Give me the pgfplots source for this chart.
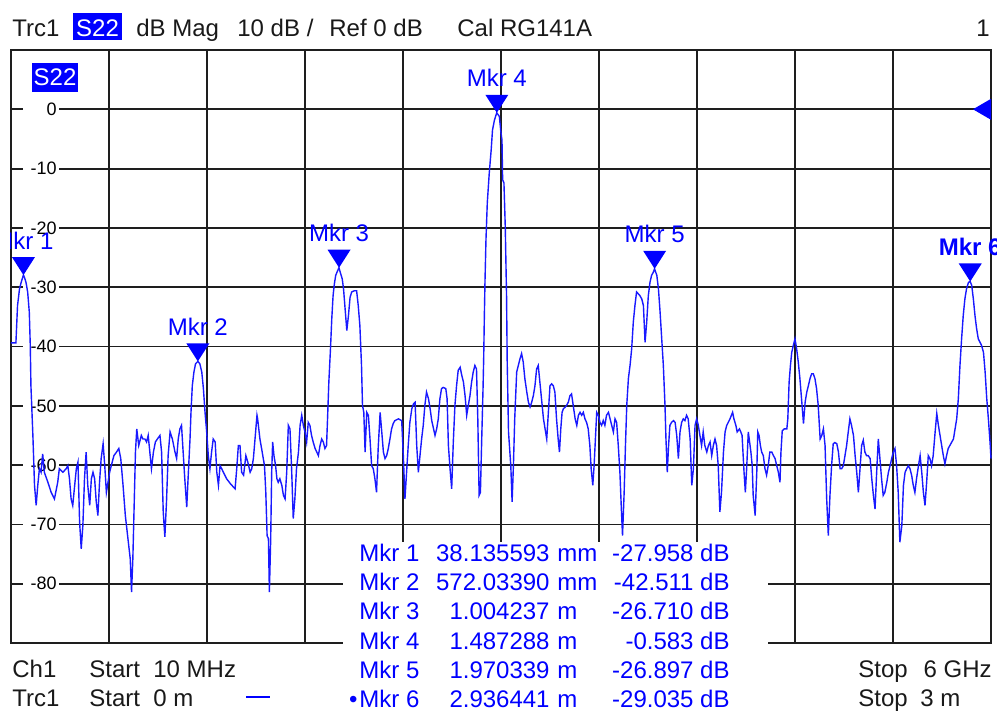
\documentclass[border=0pt]{standalone}
\usepackage{fontspec}
\setmainfont{Liberation Sans}
\usepackage{pgfplots}
\pgfplotsset{compat=1.18}
\definecolor{trc}{RGB}{25,25,255}
\definecolor{mk}{RGB}{0,0,255}
\definecolor{gridc}{RGB}{30,30,30}
\pgfdeclareplotmark{tridown}{%
  \pgfpathmoveto{\pgfpoint{0pt}{0pt}}%
  \pgfpathlineto{\pgfpoint{-5.75pt}{9pt}}%
  \pgfpathlineto{\pgfpoint{5.75pt}{9pt}}%
  \pgfpathclose\pgfusepathqfill}
\pgfdeclareplotmark{trileft}{%
  \pgfpathmoveto{\pgfpoint{-9pt}{0pt}}%
  \pgfpathlineto{\pgfpoint{0pt}{5.25pt}}%
  \pgfpathlineto{\pgfpoint{0pt}{-5.25pt}}%
  \pgfpathclose\pgfusepathqfill}
\pgfplotsset{vnabase/.style={
  at={(5.5pt,-321.5pt)}, anchor=south west,
  width=490pt, height=296.5pt, scale only axis,
  xmin=0, xmax=3, ymin=-90, ymax=10}}
\begin{document}
\begin{tikzpicture}
% grid, frame and scale labels
\begin{axis}[vnabase,
  xtick={0.3,0.6,0.9,1.2,1.5,1.8,2.1,2.4,2.7}, xticklabels={},
  ytick={-80,-70,-60,-50,-40,-30,-20,-10,0},
  yticklabels={-80,-70,-60,-50,-40,-30,-20,-10,0},
  grid=major,
  major grid style={gridc, line width=0.9pt},
  axis line style={gridc, line width=0.9pt},
  major tick length=0pt,
  tick style={draw=none},
  yticklabel style={font=\fontsize{9}{9}\selectfont, fill=white, inner sep=1pt,
    text width=16pt, align=right, anchor=east, xshift=24pt, text=black},
]
\end{axis}
% trace and markers
\begin{axis}[vnabase, hide axis, clip=false]
\addplot[trc, line width=0.7pt] coordinates {
(0,-39.4) (0.015,-39.4) (0.020,-33.1) (0.026,-30.3) (0.031,-29.2) (0.038,-27.96) (0.041,-28.3) (0.046,-29.2) (0.051,-30.8) (0.056,-34.2) (0.059,-39.8) (0.061,-46.6) (0.067,-55.0) (0.072,-63.4) (0.077,-66.8) (0.082,-63.4) (0.087,-60.6) (0.092,-61.2) (0.097,-58.1) (0.102,-61.2) (0.113,-62.9) (0.123,-64.6) (0.133,-65.7) (0.143,-62.9) (0.148,-60.6) (0.159,-61.2) (0.169,-60.6) (0.174,-60.1) (0.179,-62.3) (0.184,-65.7) (0.189,-66.8) (0.195,-63.4) (0.200,-60.6) (0.205,-59.5) (0.210,-69.6) (0.215,-74.1) (0.220,-70.2) (0.225,-62.3) (0.230,-57.8) (0.235,-63.4) (0.241,-66.8) (0.246,-62.3) (0.251,-61.2) (0.256,-62.3) (0.261,-66.2) (0.266,-68.5) (0.271,-62.9) (0.276,-58.9) (0.282,-56.4) (0.287,-60.1) (0.292,-64.6) (0.297,-62.9) (0.302,-61.2) (0.307,-60.1) (0.315,-58.4) (0.323,-57.8) (0.330,-57.2) (0.336,-58.9) (0.343,-63.4) (0.350,-68.5) (0.358,-72.4) (0.365,-75.8) (0.369,-81.4) (0.373,-75.8) (0.377,-66.8) (0.381,-57.8) (0.385,-53.9) (0.391,-56.7) (0.399,-55.0) (0.404,-55.6) (0.410,-55.6) (0.415,-56.1) (0.420,-55.0) (0.425,-57.8) (0.430,-60.6) (0.436,-57.8) (0.442,-56.1) (0.448,-55.6) (0.456,-55.0) (0.461,-57.8) (0.466,-67.9) (0.471,-72.1) (0.476,-66.2) (0.481,-58.4) (0.487,-54.4) (0.494,-55.6) (0.502,-57.8) (0.507,-58.9) (0.512,-55.6) (0.517,-53.9) (0.522,-53.3) (0.527,-57.8) (0.532,-62.3) (0.538,-67.1) (0.543,-61.2) (0.548,-55.6) (0.551,-51.1) (0.555,-46.6) (0.560,-44.3) (0.565,-42.9) (0.572,-42.51) (0.578,-42.9) (0.584,-44.3) (0.589,-47.1) (0.594,-51.1) (0.599,-54.4) (0.604,-58.4) (0.609,-60.6) (0.614,-57.8) (0.619,-55.6) (0.625,-56.1) (0.630,-61.2) (0.635,-63.4) (0.640,-60.1) (0.645,-60.6) (0.650,-61.2) (0.660,-62.3) (0.671,-63.1) (0.686,-64.0) (0.691,-60.6) (0.696,-56.7) (0.701,-56.7) (0.706,-61.2) (0.712,-61.7) (0.719,-58.4) (0.725,-59.5) (0.732,-61.2) (0.737,-60.6) (0.742,-58.9) (0.747,-55.6) (0.753,-51.6)
(0.755,-52.2) (0.762,-55.6) (0.769,-57.8) (0.776,-60.1) (0.780,-64.6) (0.784,-71.9) (0.788,-72.4) (0.791,-81.4) (0.795,-72.4) (0.798,-61.2) (0.801,-56.1) (0.805,-58.4) (0.810,-60.1) (0.814,-62.3) (0.818,-62.9) (0.823,-62.3) (0.829,-63.4) (0.834,-65.1) (0.839,-65.7) (0.844,-61.2) (0.849,-53.3) (0.854,-53.9) (0.859,-60.6) (0.864,-69.0) (0.869,-65.7) (0.874,-60.6) (0.880,-57.8) (0.885,-53.3) (0.890,-51.6) (0.895,-53.3) (0.900,-54.4) (0.905,-56.1) (0.910,-52.8) (0.915,-53.3) (0.920,-55.0) (0.925,-56.1) (0.931,-57.2) (0.941,-58.4) (0.946,-56.7) (0.951,-55.6) (0.956,-56.1) (0.961,-57.2) (0.966,-56.7) (0.969,-52.2) (0.973,-46.0) (0.978,-40.4) (0.982,-35.3) (0.986,-31.4) (0.990,-29.4) (0.994,-28.0) (1.000,-27.2) (1.004,-26.71) (1.008,-27.5) (1.014,-28.6) (1.018,-30.3) (1.022,-33.1) (1.028,-37.3) (1.033,-34.8) (1.038,-31.7) (1.043,-30.8) (1.051,-30.6) (1.058,-30.6) (1.063,-33.1) (1.068,-36.5) (1.073,-43.2) (1.076,-49.9) (1.080,-51.1) (1.084,-57.8) (1.089,-51.1) (1.094,-51.6) (1.099,-55.6) (1.104,-60.1) (1.109,-60.6) (1.114,-62.3) (1.119,-64.6) (1.124,-57.2) (1.130,-51.1) (1.135,-54.4) (1.140,-57.8) (1.145,-58.9) (1.150,-58.4) (1.155,-57.2) (1.160,-55.6) (1.165,-53.9) (1.170,-53.0) (1.175,-52.5) (1.186,-52.2) (1.196,-52.5) (1.201,-58.4) (1.206,-65.7) (1.211,-61.2) (1.216,-56.7) (1.221,-52.8) (1.227,-50.5) (1.232,-49.7) (1.237,-49.4) (1.242,-56.7) (1.247,-61.2) (1.252,-58.4) (1.257,-55.6) (1.262,-53.3) (1.267,-49.9) (1.272,-47.7) (1.278,-48.8) (1.283,-50.5) (1.288,-52.5) (1.298,-55.0) (1.303,-53.9) (1.308,-52.2) (1.313,-48.8) (1.318,-47.1) (1.323,-46.9) (1.331,-47.1) (1.335,-48.8) (1.339,-56.7) (1.344,-60.6) (1.349,-64.0) (1.354,-56.1) (1.359,-49.9) (1.364,-46.6) (1.369,-44.0) (1.375,-43.5) (1.380,-44.9) (1.385,-46.0) (1.390,-48.3) (1.395,-51.6) (1.400,-49.9) (1.405,-48.3) (1.410,-46.0) (1.415,-44.3) (1.420,-43.2) (1.425,-43.8) (1.429,-52.2) (1.433,-65.1) (1.437,-64.6) (1.441,-55.6) (1.445,-47.1)
(1.447,-42.0) (1.449,-35.0) (1.451,-29.0) (1.454,-22.0) (1.458,-15.8) (1.464,-10.8) (1.470,-6.8) (1.474,-3.5) (1.480,-1.8) (1.487,-0.583) (1.495,-1.2) (1.499,-3.5) (1.503,-5.2) (1.505,-11.9) (1.509,-12.4) (1.513,-19.7) (1.517,-31.5) (1.519,-42.6) (1.523,-54.4) (1.530,-60.1) (1.534,-66.2) (1.538,-60.1) (1.542,-52.2)
(1.548,-44.3) (1.553,-43.2) (1.558,-42.1) (1.563,-41.2) (1.568,-42.6) (1.573,-45.4) (1.579,-47.7) (1.584,-49.4) (1.589,-50.2) (1.594,-49.4) (1.599,-48.3) (1.604,-46.6) (1.609,-43.8) (1.614,-43.2) (1.619,-46.0) (1.624,-48.8) (1.630,-52.2) (1.635,-53.9) (1.640,-55.6) (1.645,-51.1) (1.650,-46.6) (1.655,-46.3) (1.660,-46.6) (1.665,-47.7) (1.670,-52.2) (1.675,-55.6) (1.679,-57.8) (1.683,-53.9) (1.687,-51.1) (1.691,-50.5) (1.697,-50.2) (1.701,-49.9) (1.706,-49.4) (1.711,-48.3) (1.716,-48.0) (1.721,-49.9) (1.727,-52.2) (1.732,-53.3) (1.737,-51.6) (1.742,-51.1) (1.747,-51.6) (1.752,-51.1) (1.757,-52.2) (1.762,-52.8) (1.767,-53.9) (1.772,-56.7) (1.776,-60.6) (1.781,-63.4) (1.785,-60.1) (1.789,-55.6) (1.793,-51.1) (1.798,-51.6) (1.803,-52.8) (1.808,-53.3) (1.813,-52.5) (1.818,-53.3) (1.823,-51.6) (1.829,-51.1) (1.834,-52.2) (1.839,-53.3) (1.844,-54.4) (1.849,-52.2) (1.854,-52.8) (1.859,-56.7) (1.864,-61.2) (1.868,-66.8) (1.872,-71.9) (1.877,-64.6) (1.881,-56.7) (1.885,-49.9) (1.890,-45.4) (1.895,-43.2) (1.900,-40.4) (1.905,-35.9) (1.910,-33.1) (1.915,-30.8) (1.920,-31.1) (1.925,-31.4) (1.931,-32.0) (1.936,-33.1) (1.941,-39.3) (1.946,-35.9) (1.951,-31.4) (1.956,-29.2) (1.961,-28.0) (1.966,-27.5) (1.970,-26.9) (1.977,-28.0) (1.982,-30.3) (1.987,-34.2) (1.992,-38.7) (1.997,-43.2) (2.002,-49.9) (2.005,-55.6) (2.009,-61.2) (2.013,-56.7) (2.017,-53.3) (2.022,-52.8) (2.028,-52.5) (2.033,-52.8) (2.038,-55.0) (2.043,-58.9) (2.048,-54.4) (2.053,-52.8) (2.058,-52.2) (2.063,-52.5) (2.068,-51.6) (2.073,-52.2) (2.079,-55.6) (2.084,-63.4) (2.089,-60.6) (2.094,-53.3) (2.099,-52.2) (2.104,-53.3) (2.109,-55.0) (2.114,-56.7) (2.119,-54.4) (2.124,-56.7) (2.130,-57.8) (2.135,-56.7) (2.140,-56.1) (2.145,-58.4) (2.150,-56.7) (2.155,-55.6) (2.160,-56.7) (2.165,-60.1) (2.170,-67.9) (2.175,-64.6) (2.181,-57.8) (2.186,-54.4) (2.191,-53.3) (2.201,-52.2) (2.209,-51.1) (2.213,-52.2) (2.219,-53.3) (2.223,-54.4) (2.230,-53.9) (2.234,-54.4) (2.238,-55.0) (2.244,-61.2) (2.248,-64.6) (2.252,-60.6) (2.257,-54.4)
(2.265,-57.8) (2.269,-60.1) (2.272,-65.1) (2.278,-68.5) (2.283,-61.2) (2.286,-54.4) (2.290,-55.0) (2.294,-56.7) (2.298,-57.8) (2.303,-58.4) (2.308,-60.6) (2.313,-61.7) (2.318,-60.1) (2.323,-57.8) (2.329,-57.8) (2.334,-58.4) (2.339,-58.9) (2.344,-60.1) (2.349,-61.2) (2.354,-62.9) (2.357,-57.8) (2.361,-54.2) (2.367,-53.9) (2.375,-53.9) (2.378,-52.2) (2.382,-46.0) (2.386,-43.2) (2.390,-41.0) (2.395,-39.8) (2.400,-38.7) (2.405,-40.4) (2.410,-42.6) (2.415,-45.4) (2.420,-48.8) (2.426,-53.0) (2.431,-49.4) (2.436,-47.7) (2.441,-46.6) (2.446,-45.4) (2.451,-44.6) (2.456,-44.6) (2.461,-45.4) (2.466,-47.1) (2.471,-49.9) (2.477,-55.6) (2.482,-55.0) (2.487,-53.9) (2.492,-56.7) (2.497,-65.7) (2.502,-71.9) (2.507,-65.1) (2.512,-60.1) (2.517,-56.4) (2.522,-56.2) (2.528,-56.4) (2.533,-57.8) (2.538,-60.6) (2.543,-60.6) (2.548,-60.1) (2.553,-58.4) (2.558,-56.7) (2.563,-54.4) (2.568,-52.2) (2.573,-53.3) (2.579,-55.0) (2.584,-58.4) (2.589,-61.2) (2.594,-64.6) (2.599,-60.6) (2.604,-56.7) (2.609,-55.8) (2.614,-57.8) (2.619,-58.4) (2.624,-58.4) (2.630,-58.9) (2.635,-62.3) (2.640,-65.1) (2.645,-67.4) (2.650,-61.2) (2.655,-55.6) (2.660,-58.9) (2.665,-62.3) (2.670,-65.1) (2.675,-64.6) (2.681,-62.9) (2.686,-61.2) (2.691,-60.1) (2.696,-58.9) (2.701,-57.8) (2.706,-57.2) (2.711,-60.1) (2.716,-64.6) (2.721,-73.0) (2.727,-70.2) (2.732,-63.4) (2.737,-61.2) (2.742,-60.6) (2.747,-60.1) (2.752,-60.6) (2.757,-61.7) (2.762,-63.4) (2.767,-64.6) (2.772,-62.3) (2.778,-60.1) (2.783,-58.4) (2.788,-61.2) (2.793,-64.6) (2.798,-66.8) (2.803,-62.9) (2.808,-58.4) (2.813,-58.9) (2.818,-60.1) (2.823,-58.4) (2.829,-54.4) (2.834,-51.3) (2.839,-53.3) (2.844,-55.0) (2.849,-56.7) (2.854,-58.4) (2.859,-59.8) (2.864,-58.4) (2.869,-57.2) (2.874,-56.7) (2.880,-56.1) (2.885,-55.6) (2.890,-53.9) (2.895,-52.2) (2.900,-48.8) (2.905,-43.2) (2.910,-38.7) (2.915,-34.8) (2.920,-32.0) (2.925,-30.3) (2.931,-29.2) (2.936,-29.0) (2.941,-29.7) (2.946,-32.0) (2.951,-34.8) (2.956,-37.0) (2.961,-38.7) (2.971,-39.8) (2.977,-41.0) (2.982,-44.3) (2.987,-48.8) (2.992,-52.2) (2.997,-56.1) (3.000,-58.9)
};
\addplot[mk, only marks, mark=tridown,
  point meta=explicit symbolic, nodes near coords,
  every node near coord/.append style={anchor=base, inner sep=0pt, yshift=13pt,
    font=\fontsize{12}{12}\selectfont, text=mk}]
  coordinates {(0.038136,-27.958) [Mkr 1] (0.572034,-42.511) [Mkr 2] (1.004237,-26.710) [Mkr 3]
               (1.487288,-0.583) [Mkr 4] (1.970339,-26.897) [Mkr 5]};
\addplot[mk, only marks, mark=tridown,
  point meta=explicit symbolic, nodes near coords,
  every node near coord/.append style={anchor=base, inner sep=0pt, yshift=13pt,
    font=\fontsize{12}{12}\selectfont\bfseries, text=mk}]
  coordinates {(2.936441,-29.035) [Mkr 6]};
\addplot[mk, only marks, mark=trileft] coordinates {(3,0)};
\end{axis}
\begin{scope}[x=0.5pt, y=-0.5pt, every node/.style={inner sep=0pt, font=\fontsize{12}{14}\selectfont}]
  % the marker label is cut at the left edge of the diagram
  \fill[white] (-2,215) rectangle (10.1,255);
  % marker table area
  \fill[white] (343,542) rectangle (768,712);
  % header
  \node[anchor=base west, text=black!90] at (12,37) {Trc1};
  \fill[mk] (73,13) rectangle (122,40);
  \node[anchor=base, text=white] at (97.5,37) {S22};
  \node[anchor=base west, text=black!90] at (136,37) {dB Mag};
  \node[anchor=base west, text=black!90] at (237,37) {10 dB /};
  \node[anchor=base west, text=black!90] at (329,37) {Ref 0 dB};
  \node[anchor=base west, text=black!90] at (457,37) {Cal RG141A};
  \node[anchor=base east, text=black!90] at (990,37) {1};
  % trace label inside
  \fill[mk] (32,63) rectangle (78,92);
  \node[anchor=base, text=white] at (55,86) {S22};
  % footer
  \node[anchor=base west, text=black!90] at (12,677) {Ch1};
  \node[anchor=base west, text=black!90] at (89,677) {Start};
  \node[anchor=base west, text=black!90] at (153,677) {10 MHz};
  \node[anchor=base west, text=black!90] at (12,706) {Trc1};
  \node[anchor=base west, text=black!90] at (89,706) {Start};
  \node[anchor=base west, text=black!90] at (153,706) {0 m};
  \draw[mk, line width=0.8pt] (246,697) -- (270,697);
  \node[anchor=base west, text=black!90] at (858,677) {Stop};
  \node[anchor=base east, text=black!90] at (992,677) {6 GHz};
  \node[anchor=base west, text=black!90] at (858,706) {Stop};
  \node[anchor=base west, text=black!90] at (920,706) {3 m};
  % marker table
  \foreach \yb/\n/\v/\u/\dd in {561.5/1/38.135593/mm/-27.958, 590.7/2/572.03390/mm/-42.511,
      619.9/3/1.004237/m/-26.710, 649.1/4/1.487288/m/-0.583, 678.3/5/1.970339/m/-26.897,
      707.5/6/2.936441/m/-29.035}{
    \node[anchor=base west, text=mk] at (359,\yb) {Mkr \n};
    \node[anchor=base east, text=mk] at (550,\yb) {\v};
    \node[anchor=base west, text=mk] at (557,\yb) {\u};
    \node[anchor=base east, text=mk] at (730,\yb) {\dd{} dB};
  }
  \node[anchor=base east, text=mk] at (358,707.5) {•};
\end{scope}
\pgfresetboundingbox
\useasboundingbox (0,0) rectangle (498.5pt,-355.5pt);
\end{tikzpicture}
\end{document}
